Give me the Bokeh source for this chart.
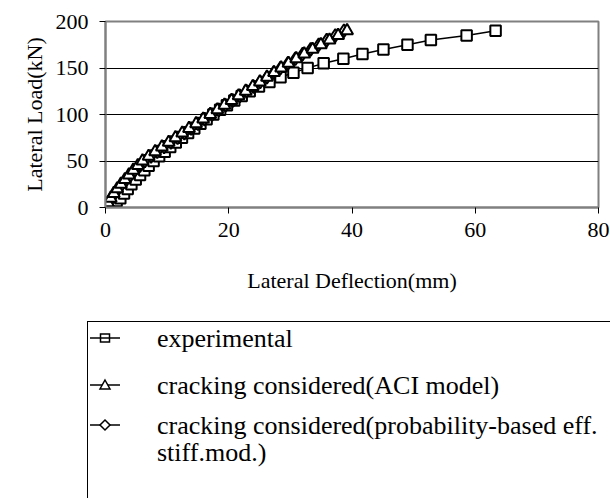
from bokeh.plotting import figure
from bokeh.layouts import column
from bokeh.models import Range1d, FixedTicker, Div
from bokeh.embed import file_html
from bokeh.resources import INLINE

# ---- data (deflection mm, load kN) ----
exp_load = [0, 4, 7, 10, 15, 20, 25, 30, 35, 40, 45, 50, 55, 60, 65, 70, 75, 80, 85, 90,
            95, 100, 105, 110, 115, 120, 125, 130, 135, 140, 145, 150, 155, 160, 165, 170,
            175, 180, 185, 190]
exp_defl = [0, 0.8, 1.8, 2.4, 3.0, 3.6, 4.2, 4.9, 5.6, 6.3, 7.0, 7.8, 8.7, 9.6, 10.5, 11.4,
            12.4, 13.4, 14.4, 15.4, 16.4, 17.5, 18.6, 19.7, 20.9, 22.1, 23.4, 24.9, 26.6,
            28.4, 30.5, 32.8, 35.4, 38.6, 41.7, 45.1, 49.0, 52.8, 58.6, 63.3]

model_load = [0, 5, 10, 15, 20, 25, 30, 35, 40, 45, 50, 55, 60, 65, 70, 75, 80, 85, 90, 95,
              100, 105, 110, 115, 120, 125, 130, 135, 140, 145, 150, 155, 160, 165, 170,
              175, 180, 185, 190]
aci_defl = [0, 0.4, 0.85, 1.35, 1.9, 2.5, 3.15, 3.8, 4.5, 5.25, 6.0, 7.0, 8.05, 9.15, 10.25,
            11.35, 12.45, 13.55, 14.7, 15.85, 17.0, 18.15, 19.3, 20.45, 21.6, 22.75, 23.9,
            25.05, 26.2, 27.35, 28.5, 29.7, 30.95, 32.25, 33.6, 34.95, 36.35, 37.75, 39.2]
prob_defl = [0, 0.5, 1.0, 1.5, 2.1, 2.7, 3.4, 4.1, 4.8, 5.6, 6.4, 7.4, 8.4, 9.5, 10.6, 11.7,
             12.8, 13.9, 15.0, 16.1, 17.3, 18.4, 19.5, 20.7, 21.8, 22.9, 24.0, 25.1, 26.2,
             27.3, 28.4, 29.6, 30.8, 32.0, 33.3, 34.6, 35.9, 37.3, 38.7]

x_ticks = [0, 20, 40, 60, 80]
y_ticks = [0, 50, 100, 150, 200]

labels = ["experimental",
          "cracking considered(ACI model)",
          "cracking considered(probability-based eff.<br>stiff.mod.)"]

FONT = "Liberation Serif"

p = figure(width=610, height=300, output_backend="svg", toolbar_location=None,
           x_range=Range1d(0, 80), y_range=Range1d(0, 200),
           min_border_left=105, min_border_right=12, min_border_top=21,
           min_border_bottom=93)
p.background_fill_color = "white"
p.border_fill_color = "white"
p.outline_line_color = "#808080"
p.outline_line_width = 2

p.xgrid.visible = False
p.ygrid.grid_line_color = "black"
p.ygrid.grid_line_width = 1

p.xaxis.ticker = FixedTicker(ticks=x_ticks)
p.yaxis.ticker = FixedTicker(ticks=y_ticks)
for ax in (p.xaxis[0], p.yaxis[0]):
    ax.axis_line_color = "#808080"
    ax.axis_line_width = 2
    ax.major_tick_line_color = "black"
    ax.major_tick_line_width = 1
    ax.major_tick_in = 0
    ax.major_tick_out = 6
    ax.minor_tick_line_color = None
    ax.major_label_text_font = FONT
    ax.major_label_text_font_size = "22px"
    ax.major_label_text_color = "black"
    ax.axis_label_text_font = FONT
    ax.axis_label_text_font_size = "22px"
    ax.axis_label_text_font_style = "normal"
    ax.axis_label_text_color = "black"

p.xaxis.axis_label = "Lateral Deflection(mm)"
p.yaxis.axis_label = "Lateral Load(kN)"
p.xaxis.major_label_standoff = 9
p.xaxis.axis_label_standoff = 28
p.yaxis.major_label_standoff = 11
p.yaxis.axis_label_standoff = 6

# experimental
p.line(exp_defl, exp_load, line_color="black", line_width=1.5)
p.scatter(exp_defl, exp_load, marker="square", size=10.5, line_color="black",
          line_width=2, fill_color="white")
# probability-based
p.line(prob_defl, model_load, line_color="black", line_width=1.5)
p.scatter(prob_defl, model_load, marker="diamond", size=13, line_color="black",
          line_width=2, fill_color="white")
# ACI
p.line(aci_defl, model_load, line_color="black", line_width=1.5)
p.scatter(aci_defl, model_load, marker="triangle", size=12, line_color="black",
          line_width=2, fill_color="white")

# ---- legend panel below the chart (box runs past the window edges, as in the source) ----
row_y = [16, 63, 103]
keys = (
    '<line x1="2" y1="{y}" x2="32" y2="{y}" stroke="black" stroke-width="1.5"/>'
    '<rect x="12.5" y="{a}" width="9" height="8" fill="none" stroke="black" stroke-width="1.5"/>'
).format(y=row_y[0], a=row_y[0] - 4)
keys += (
    '<line x1="2" y1="{y}" x2="32" y2="{y}" stroke="black" stroke-width="1.5"/>'
    '<polygon points="17,{t} 22,{b} 12,{b}" fill="white" stroke="black" stroke-width="1.5"/>'
).format(y=row_y[1], t=row_y[1] - 5, b=row_y[1] + 4)
keys += (
    '<line x1="2" y1="{y}" x2="32" y2="{y}" stroke="black" stroke-width="1.5"/>'
    '<polygon points="17,{t} 22,{y} 17,{b} 12,{y}" fill="white" stroke="black" stroke-width="1.5"/>'
).format(y=row_y[2], t=row_y[2] - 5, b=row_y[2] + 5)

texts = "".join(
    '<div style="position:absolute;left:69px;top:{t}px;line-height:27px;'
    'white-space:nowrap;">{s}</div>'.format(t=y - 13.5, s=s)
    for y, s in zip(row_y, labels)
)

html = (
    '<div style="position:relative;width:610px;height:198px;overflow:hidden;'
    'background:white;margin:0;padding:0;">'
    '<div style="position:absolute;left:87px;top:21px;width:640px;height:260px;'
    'border-left:1px solid black;border-top:1px solid black;border-right:none;'
    'border-bottom:none;background:white;font-family:\'Liberation Serif\';'
    'font-size:26px;color:black;">'
    '<svg width="40" height="130" style="position:absolute;left:0;top:0;">' + keys + '</svg>'
    + texts +
    '</div></div>'
)

legend_box = Div(text=html, width=610, height=198, styles={"overflow": "hidden", "margin": "0"})

open("out.html", "w").write(file_html(column(p, legend_box, spacing=0), INLINE))
